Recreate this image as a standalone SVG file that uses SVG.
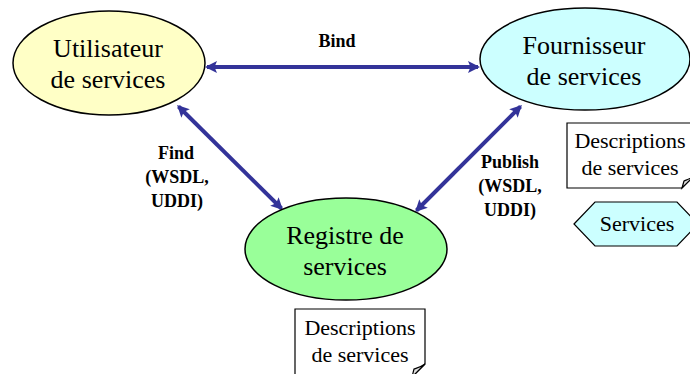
<svg xmlns="http://www.w3.org/2000/svg" width="690" height="374" viewBox="0 0 690 374">
<style>
.node{stroke:#000;stroke-width:1.5}
.nt{font-family:'Liberation Serif','Times New Roman','DejaVu Serif',serif;font-size:26px;fill:#000;text-anchor:middle}
.dt{font-family:'Liberation Serif','Times New Roman','DejaVu Serif',serif;font-size:22px;fill:#000;text-anchor:middle}
.lb{font-family:'Liberation Serif','Times New Roman','DejaVu Serif',serif;font-size:18px;font-weight:bold;fill:#000;text-anchor:middle}
.conn{stroke:#333399;stroke-width:4;fill:none;marker-start:url(#ah);marker-end:url(#ah)}
.note{fill:#fff;stroke:#000;stroke-width:1.2}
.fold{fill:#ddd;stroke:#000;stroke-width:1.2}
</style>
<defs>
<marker id="ah" viewBox="0 0 12 12" refX="10" refY="6" markerWidth="13" markerHeight="12" markerUnits="userSpaceOnUse" orient="auto-start-reverse">
<path d="M0,0 L12,6 L0,12 L2.5,6 Z" fill="#333399"/>
</marker>
</defs>
<rect width="690" height="374" fill="#fff"/>
<g id="connectors">
<line class="conn" x1="207" y1="67" x2="478" y2="67"/>
<line class="conn" x1="178.5" y1="106.5" x2="281.5" y2="208.5"/>
<line class="conn" x1="520.5" y1="106.5" x2="416.5" y2="210.5"/>
</g>
<g id="labels">
<text class="lb" x="337" y="47">Bind</text>
<text class="lb" x="176" y="159">Find</text>
<text class="lb" x="177" y="183">(WSDL,</text>
<text class="lb" x="177" y="207">UDDI)</text>
<text class="lb" x="510" y="168">Publish</text>
<text class="lb" x="510" y="192">(WSDL,</text>
<text class="lb" x="510" y="216">UDDI)</text>
</g>
<g id="utilisateur">
<ellipse class="node" cx="109" cy="63" rx="96" ry="52" fill="#FFFFC6"/>
<text class="nt" x="108" y="57">Utilisateur</text>
<text class="nt" x="108" y="88">de services</text>
</g>
<g id="fournisseur">
<ellipse class="node" cx="585" cy="59" rx="105" ry="51" fill="#CCFFFF"/>
<text class="nt" x="584" y="54">Fournisseur</text>
<text class="nt" x="584" y="85">de services</text>
</g>
<g id="registre">
<ellipse class="node" cx="346" cy="249" rx="101" ry="51" fill="#99FF99"/>
<text class="nt" x="345" y="244">Registre de</text>
<text class="nt" x="345" y="275">services</text>
</g>
<g id="descriptions-fournisseur">
<path class="note" d="M567,123 H694 V176 L682,188 H567 Z"/>
<path class="fold" d="M694,176 C690,179 686,180 684,181 L682,188 Z"/>
<text class="dt" x="630" y="148">Descriptions</text>
<text class="dt" x="630" y="175">de services</text>
</g>
<g id="services">
<polygon points="574,224 595,202 677,202 698,224 677,246 595,246" fill="#CCFFFF" stroke="#000" stroke-width="1.2"/>
<text class="dt" x="637" y="231">Services</text>
</g>
<g id="descriptions-registre">
<path class="note" d="M295,309 H425 V364 L412,377 H295 Z"/>
<path class="fold" d="M425,364 C421,367 417,368 414,369 L412,377 Z"/>
<text class="dt" x="360" y="335">Descriptions</text>
<text class="dt" x="360" y="362">de services</text>
</g>
</svg>
